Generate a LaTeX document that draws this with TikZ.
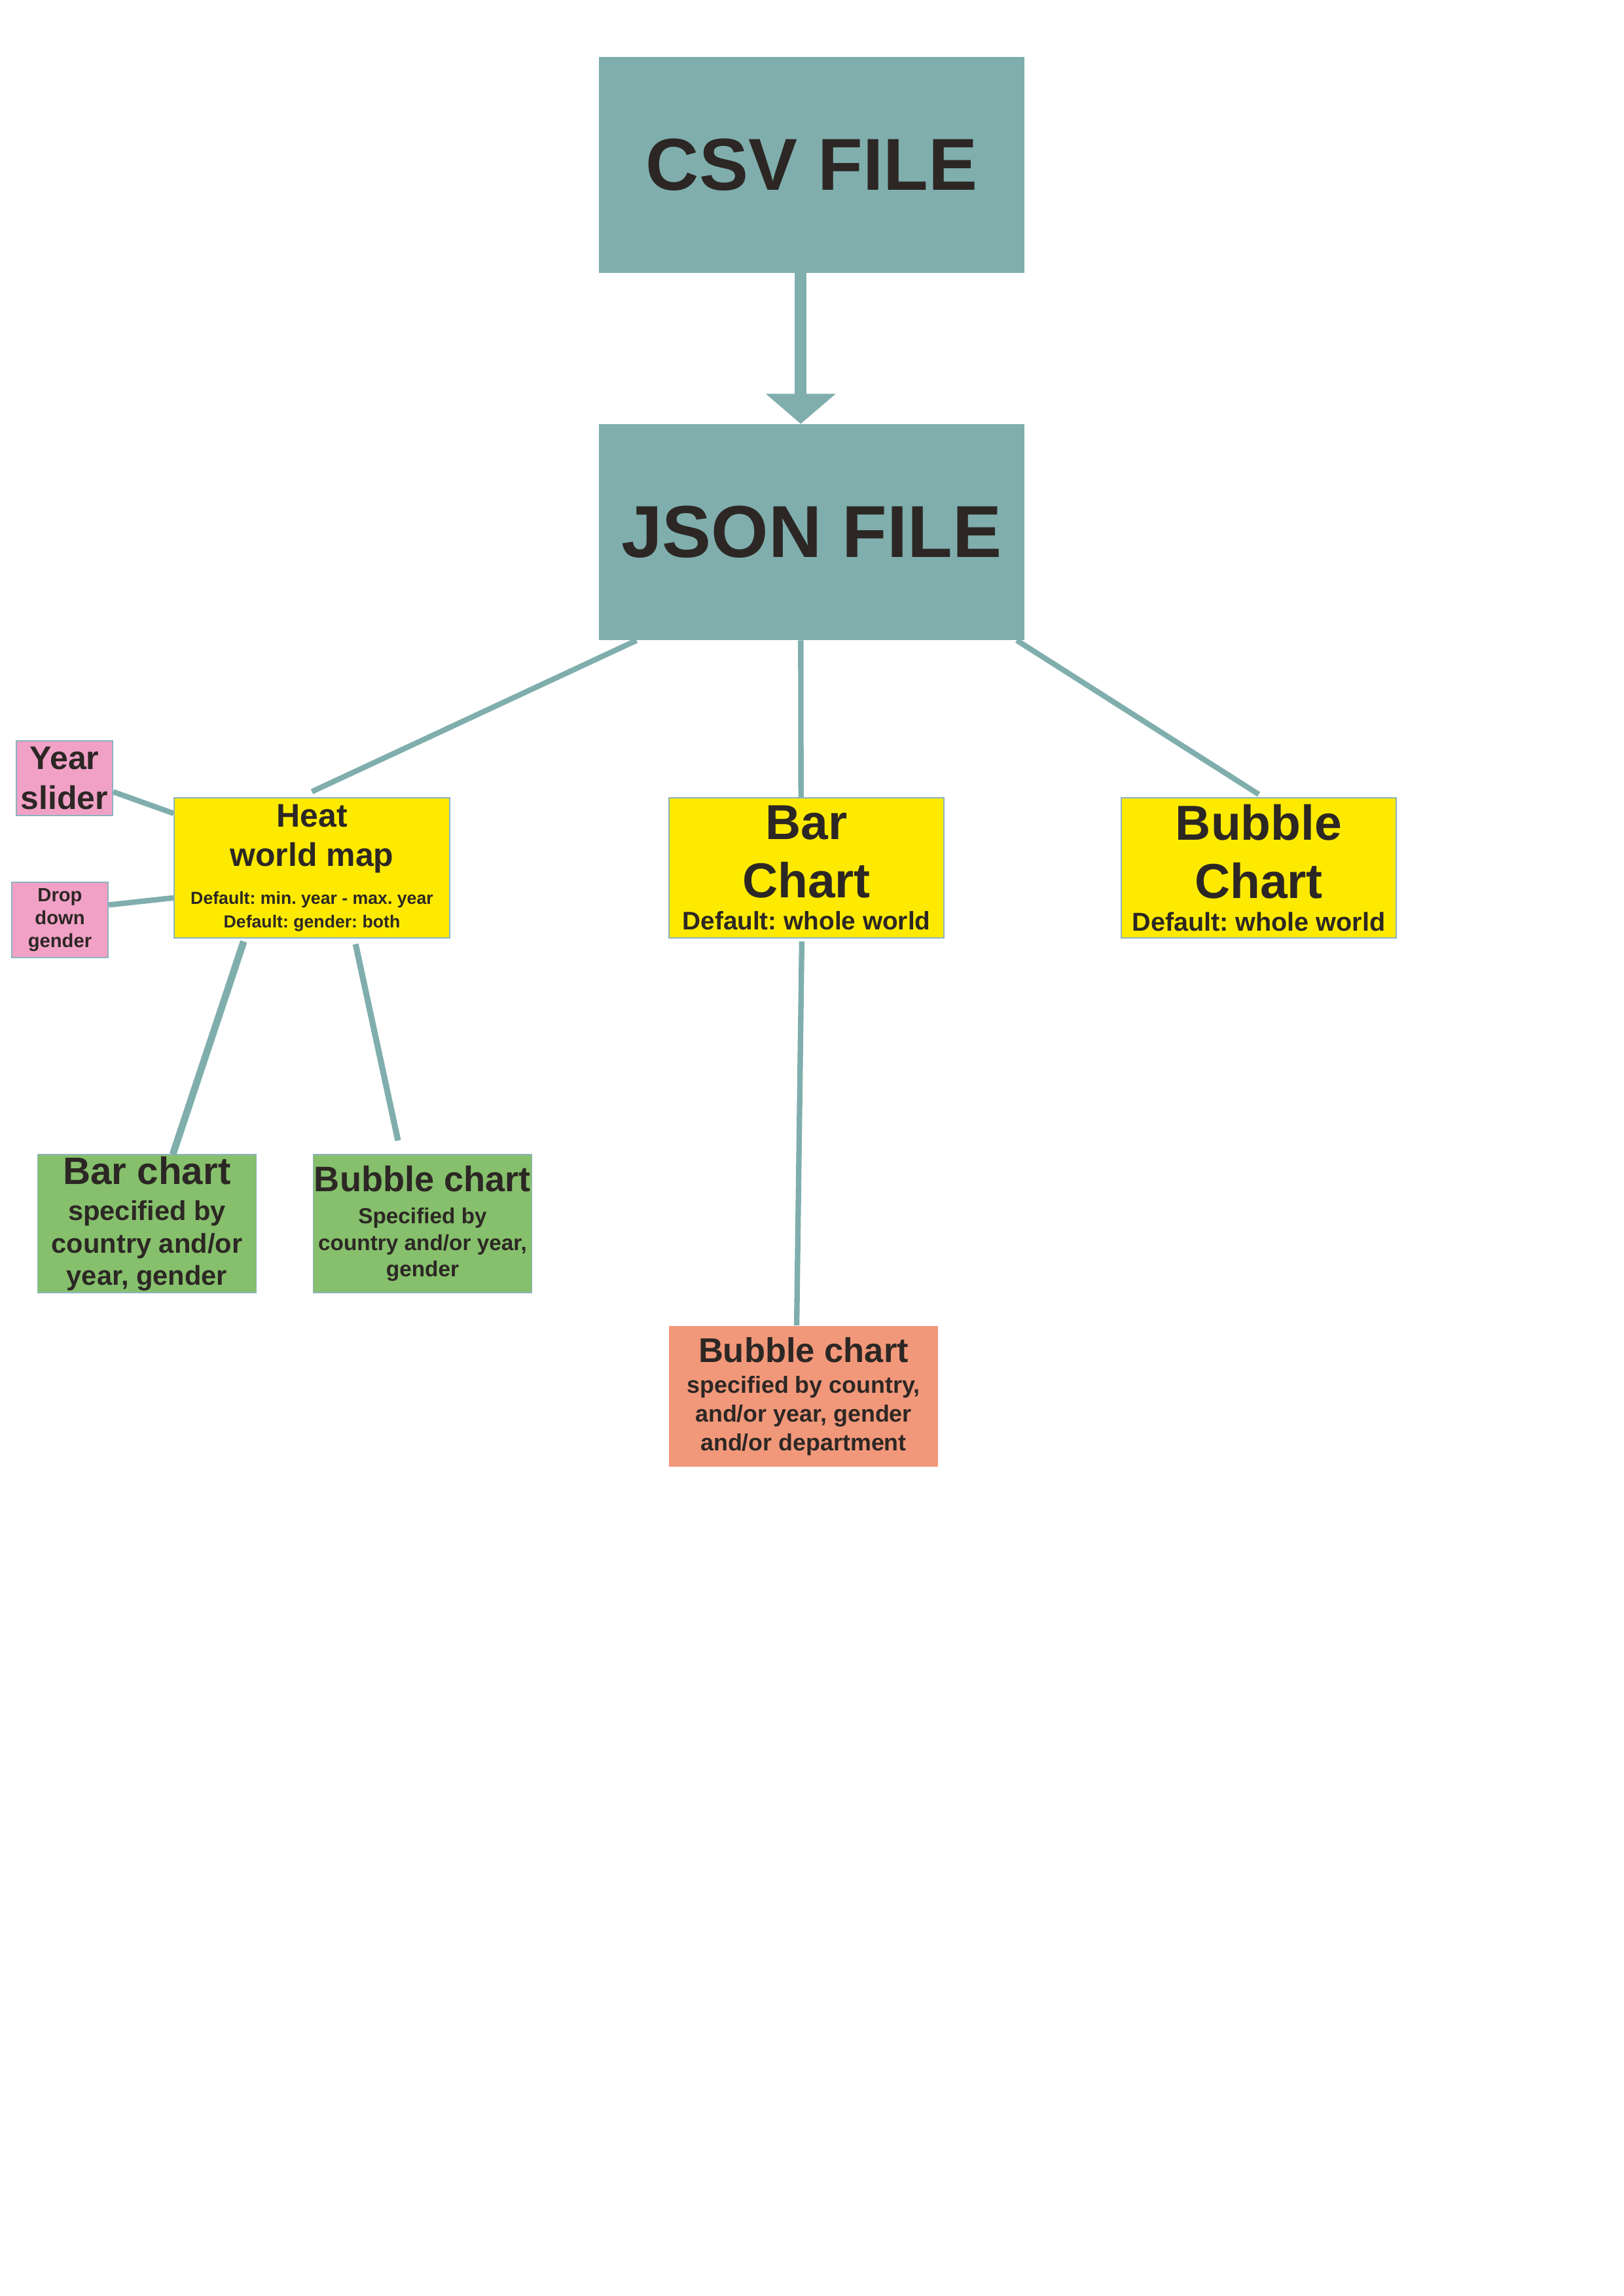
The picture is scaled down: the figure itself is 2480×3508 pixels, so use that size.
\documentclass[tikz,border=0pt]{standalone}
\usepackage{fontspec}
\setmainfont{Liberation Sans}
\usetikzlibrary{arrows.meta}

\definecolor{linkteal}{RGB}{127,174,173}
\definecolor{inkdark}{RGB}{44,39,36}
\definecolor{edgeblue}{RGB}{140,178,192}
\definecolor{chartyellow}{RGB}{253,234,0}
\definecolor{sliderpink}{RGB}{242,161,198}
\definecolor{subgreen}{RGB}{134,192,108}
\definecolor{deptorange}{RGB}{242,152,122}

\newcommand{\fs}[2]{\fontsize{#1}{#2}\selectfont}
\lineskiplimit=-50pt
\frenchspacing

\begin{document}
\begin{tikzpicture}[x=0.24pt,y=-0.24pt,
  box/.style={rectangle,inner sep=0pt,align=center,text=inkdark},
  filebox/.style={box,fill=linkteal,minimum width=156pt,minimum height=79pt,
    font=\bfseries\fs{27}{32}},
  chartbox/.style={box,fill=chartyellow,draw=edgeblue,line width=0.5pt,
    minimum width=101pt,minimum height=51.4pt},
  controlbox/.style={box,fill=sliderpink,draw=edgeblue,line width=0.5pt,
    minimum width=35.3pt,minimum height=27.5pt},
  subbox/.style={box,fill=subgreen,draw=edgeblue,line width=0.3pt,
    minimum width=80pt,minimum height=50.6pt},
  link/.style={draw=linkteal,line width=2pt}]
\useasboundingbox (0,0) rectangle (2480,3508);

% files
\node[filebox] (csv) at (1240,252) {CSV FILE};
\node[filebox] (json) at (1240,813) {JSON FILE};
\draw[link,line width=4.3pt,-{Triangle[width=25pt,length=11pt]}]
  ([xshift=-4pt]csv.south) -- ([xshift=-4pt]json.north);

% first level
\node[chartbox,font=\bfseries\fs{6.4}{8.6}] (heat) at (476.5,1326)
  {{\fs{12}{14}Heat}\\[5.9pt]{\fs{12}{14}world map}\\[5.4pt]Default: min. year - max. year\\Default: gender: both};
\node[chartbox,font=\bfseries\fs{9.3}{11.8}] (bar) at (1232,1326)
  {{\fs{18}{21}Bar}\\[9.6pt]{\fs{18}{21}Chart}\\Default: whole world};
\node[chartbox,font=\bfseries\fs{9.5}{11.8}] (bubble) at (1923,1326)
  {{\fs{18}{21}Bubble}\\[9.6pt]{\fs{18}{21}Chart}\\Default: whole world};

% controls of the map
\node[controlbox,font=\bfseries\fs{12}{14.5}] (year) at (98.5,1189)
  {Year\\slider};
\node[controlbox,font=\bfseries\fs{7}{8.3}] (gender) at (91.5,1405.5)
  {Drop\\down\\gender};

% second level
\node[subbox,font=\bfseries\fs{10}{11.8}] (heatbar) at (224.5,1869.5)
  {{\fs{14}{14}Bar chart}\\[1.6pt]specified by\\country and/or\\year, gender};
\node[subbox,font=\bfseries\fs{8}{9.7}] (heatbubble) at (645.5,1869.5)
  {{\fs{13}{13}Bubble chart}\\[2.1pt]Specified by\\country and/or year,\\gender};
\node[box,fill=deptorange,minimum width=98.6pt,minimum height=51.6pt,
  font=\bfseries\fs{8.6}{10.5}] (dept) at (1227.5,2133.5)
  {{\fs{12.6}{12.6}Bubble chart}\\[0.8pt]specified by country,\\and/or year, gender\\and/or department};

% connections
\draw[link] ([xshift=14pt]json.south west) -- ([yshift=2pt]heat.north);
\draw[link] ([xshift=-4pt]json.south) -- ([xshift=-2pt]bar.north);
\draw[link] ([xshift=-3pt]json.south east) -- ([yshift=1pt]bubble.north);
\draw[link] ([yshift=-5pt]year.east) -- ([yshift=20pt]heat.west);
\draw[link] ([yshift=5.5pt]gender.east) -- ([yshift=-11pt]heat.west);
\draw[link,line width=2.6pt] ([xshift=-25pt,yshift=-1pt]heat.south) -- ([xshift=9.5pt]heatbar.north);
\draw[link,line width=2.2pt] ([xshift=16pt,yshift=-2pt]heat.south) -- ([xshift=-9pt,yshift=5pt]heatbubble.north);
\draw[link] ([xshift=-1.7pt,yshift=-1pt]bar.south) -- ([xshift=-2.5pt]dept.north);
\end{tikzpicture}
\end{document}
